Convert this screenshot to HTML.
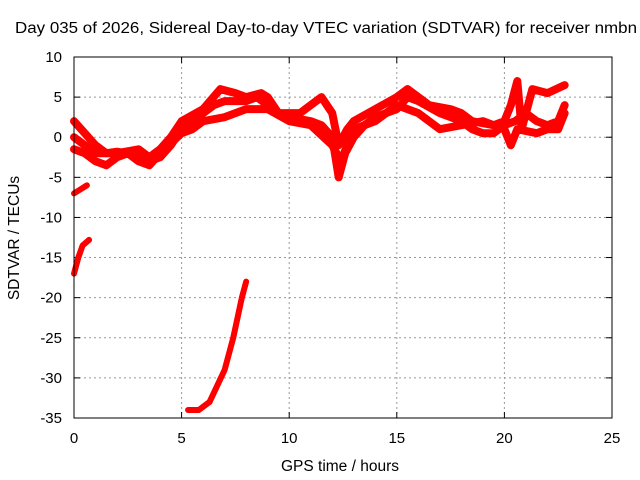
<!DOCTYPE html>
<html><head><meta charset="utf-8"><style>
body{margin:0;background:#fff}
svg{display:block;font-family:"Liberation Sans",sans-serif;font-size:14px}
</style></head><body>
<svg width="640" height="480">
<text x="15" y="33" font-size="15.5" textLength="622" lengthAdjust="spacingAndGlyphs">Day 035 of 2026, Sidereal Day-to-day VTEC variation (SDTVAR) for receiver nmbn</text>
<text x="340" y="471" font-size="15.5" text-anchor="middle">GPS time / hours</text>
<text transform="translate(19,238) rotate(-90)" font-size="15.5" text-anchor="middle">SDTVAR / TECUs</text>
<g id="grid"></g>
<g id="axes"></g>
<g id="series"></g>
<rect x="74" y="57" width="538" height="361" fill="none" stroke="#000"/>
</svg>
<script>
const xTicks=[0,5,10,15,20,25];
const yTicks=[10,5,0,-5,-10,-15,-20,-25,-30,-35];
const seriesA=[[0,2],[0.5,0.5],[1,-1],[1.5,-2],[2,-1.8],[2.5,-2],[3,-2.5],[3.5,-3],[4,-2.5],[4.5,-1],[5,1],[5.5,2],[6,3],[6.5,4],[7,4.5],[8,4.5],[8.5,5],[9,4],[9.5,3],[10,2.5],[11,2],[11.5,1.5],[12,0],[12.3,-5],[12.6,-2],[13,0],[13.5,1.5],[14,2.5],[15,3.5],[15.5,5],[16,4.5],[17,3],[18,2],[18.5,1],[19,0.5],[19.5,0.5],[20,1.5],[20.5,2],[21,3],[21.5,2],[22,1.5],[22.5,2],[22.8,4]];
const seriesB=[[0,0],[0.5,-1],[1,-2],[2,-2],[3,-1.5],[3.5,-2.5],[4,-1.5],[4.5,0],[5,2],[6,3.5],[6.8,6],[7.5,5.5],[8,5],[8.7,5.5],[9,5],[9.5,3],[10.5,3],[11,4],[11.5,5],[12,3],[12.3,-1],[12.7,1],[13,2],[14,3.5],[15,5],[15.5,6],[16,5],[16.5,4],[17.5,3.5],[18,3],[18.5,2],[19.5,1.5],[20,2],[20.3,4],[20.6,7],[20.8,1],[21.3,6],[22,5.5],[22.8,6.5]];
const seriesC=[[0,-1.5],[0.5,-2],[1,-3],[1.5,-3.5],[2,-2.5],[2.5,-2],[3,-3],[3.5,-3.5],[4,-2],[5,0.5],[5.5,1],[6,2],[7,2.5],[8,3.5],[9,3.5],[10,2],[11,1.5],[12,-1],[12.4,-3],[13,1],[14,2],[15,4],[16,3],[16.5,2],[17,1],[18,1.5],[19,2],[20,1],[20.3,-1],[20.6,1],[21.5,0.5],[22,1],[22.5,1],[22.8,3]];
const seriesD=[[0,-7],[0.3,-6.5],[0.6,-6]];
const seriesE=[[0,-17],[0.2,-15],[0.4,-13.5],[0.7,-12.8]];
const seriesF=[[5.3,-34],[5.8,-34],[6.3,-33],[7,-29],[7.4,-25],[7.8,-20],[8,-18]];
const NS="http://www.w3.org/2000/svg";
const X=h=>74+h*538/25, Y=v=>57+(10-v)*361/45;
function mk(t,a,p){const e=document.createElementNS(NS,t);for(const k in a)e.setAttribute(k,a[k]);p.appendChild(e);return e;}
const grid=document.getElementById('grid'),axes=document.getElementById('axes'),ser=document.getElementById('series');
xTicks.forEach(t=>{const x=X(t);
 if(t>0&&t<25){const l=mk('line',{x1:x,x2:x,y1:57,y2:418,stroke:'#999','stroke-dasharray':'2,3'},grid);}
 mk('line',{x1:x,x2:x,y1:418,y2:412,stroke:'#000'},axes);mk('line',{x1:x,x2:x,y1:57,y2:63,stroke:'#000'},axes);
 const tx=mk('text',{x:x,y:443,'text-anchor':'middle','font-size':15},axes);tx.textContent=t;
 });
yTicks.forEach(t=>{const y=Y(t);
 if(t<10&&t>-35){const l=mk('line',{x1:74,x2:612,y1:y,y2:y,stroke:'#999','stroke-dasharray':'2,3'},grid);}
 mk('line',{x1:74,x2:80,y1:y,y2:y,stroke:'#000'},axes);mk('line',{x1:606,x2:612,y1:y,y2:y,stroke:'#000'},axes);
 const tx=mk('text',{x:62,y:y+5,'text-anchor':'end','font-size':15},axes);tx.textContent=t;
 });
[[seriesA,'series-a',8],[seriesB,'series-b',8],[seriesC,'series-c',8],[seriesD,'series-d',6],[seriesE,'series-e',6],[seriesF,'series-f',6]].forEach(([d,n,w])=>{
 const p=mk('polyline',{points:d.map(q=>X(q[0])+','+Y(q[1])).join(' '),fill:'none',stroke:'#f00','stroke-width':w,'stroke-linejoin':'round','stroke-linecap':'round'},ser);
 
 
});
</script>
</body></html>
